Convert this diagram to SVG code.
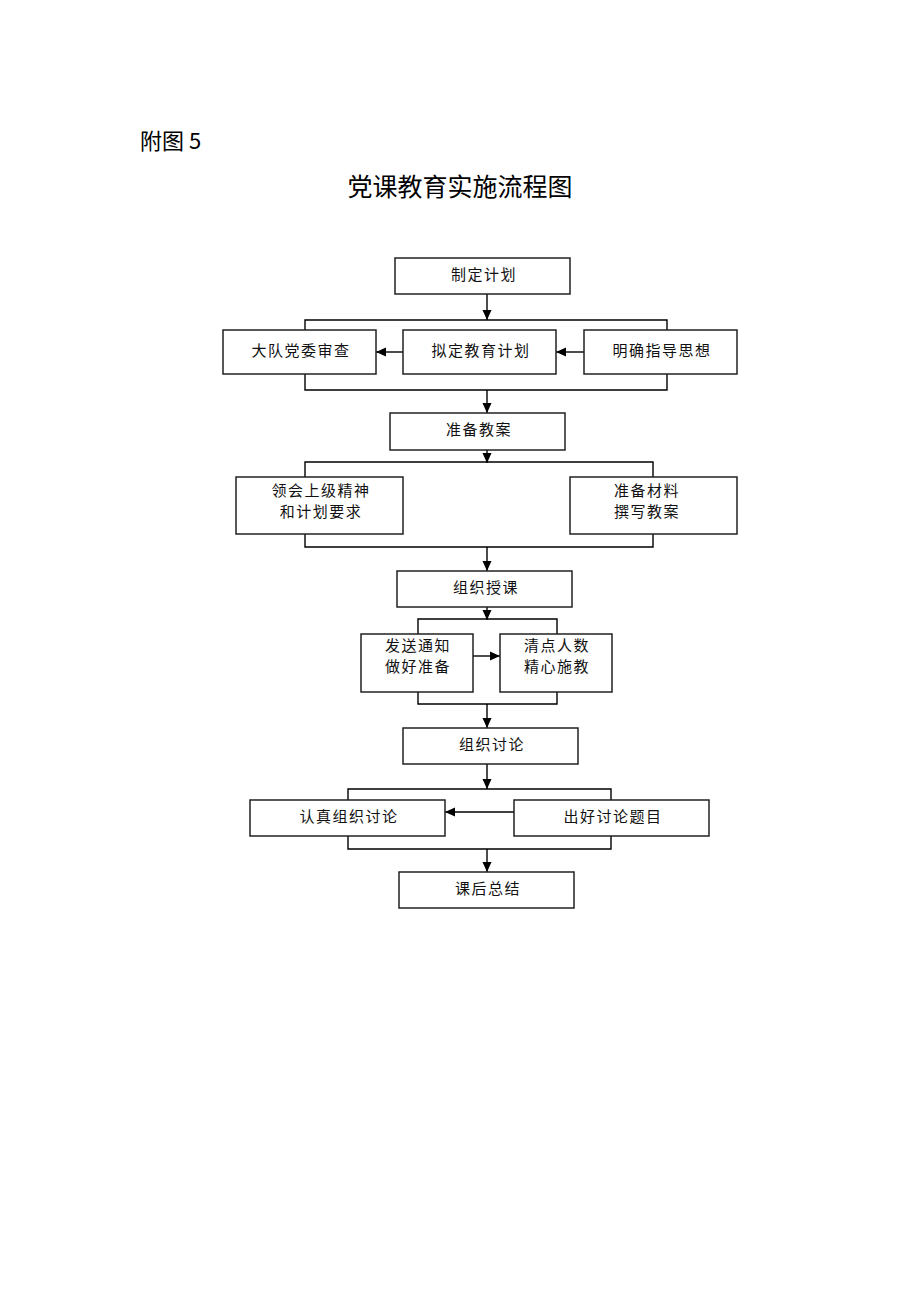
<svg xmlns="http://www.w3.org/2000/svg" width="920" height="1302" viewBox="0 0 920 1302">
<style>
.box{fill:#fff;stroke:#222;stroke-width:1.5}
.t{font-family:"Noto Sans CJK SC","Liberation Sans",sans-serif;font-size:15px;fill:#111;text-anchor:middle;letter-spacing:1.5px}
.ln{fill:none;stroke:#000;stroke-width:1.4}
.ar{fill:none;stroke:#000;stroke-width:1.4;marker-end:url(#ah)}
</style>
<defs>
<marker id="ah" markerUnits="userSpaceOnUse" markerWidth="10" markerHeight="10" refX="10" refY="5" orient="auto">
<path d="M0,0.5 L10,5 L0,9.5 z" fill="#000"/>
</marker>
</defs>
<rect width="920" height="1302" fill="#fff"/>
<g id="heading">
<text x="140" y="149" style="font-family:'Noto Sans CJK SC','Liberation Sans',sans-serif;font-size:22px;fill:#000">附图 5</text>
<text x="460" y="196" style="font-family:'Noto Sans CJK SC','Liberation Sans',sans-serif;font-size:25px;fill:#000;text-anchor:middle">党课教育实施流程图</text>
</g>
<g id="connectors">
<path class="ar" d="M487,294 V320"/>
<path class="ln" d="M305,330 V320 H667 V330"/>
<path class="ar" d="M403,352 H376"/>
<path class="ar" d="M584,352 H556"/>
<path class="ln" d="M305,374 V390 H667 V374"/>
<path class="ar" d="M487,390 V413"/>
<path class="ar" d="M487,450 V463"/>
<path class="ln" d="M305,477 V462 H653 V477"/>
<path class="ln" d="M305,534 V547 H653 V534"/>
<path class="ar" d="M487,547 V571"/>
<path class="ar" d="M487,607 V620"/>
<path class="ln" d="M418,634 V619 H557 V634"/>
<path class="ar" d="M473,656 H500"/>
<path class="ln" d="M418,692 V704 H557 V692"/>
<path class="ar" d="M487,704 V728"/>
<path class="ar" d="M487,764 V789"/>
<path class="ln" d="M348,800 V789 H611 V800"/>
<path class="ar" d="M514,812 H445"/>
<path class="ln" d="M348,836 V849 H611 V836"/>
<path class="ar" d="M487,849 V872"/>
</g>
<g id="n1"><rect class="box" x="395" y="258" width="175" height="36"/><text class="t" x="484" y="280">制定计划</text></g>
<g id="n2"><rect class="box" x="223" y="330" width="153" height="44"/><text class="t" x="301" y="356">大队党委审查</text></g>
<g id="n3"><rect class="box" x="403" y="330" width="153" height="44"/><text class="t" x="481" y="356">拟定教育计划</text></g>
<g id="n4"><rect class="box" x="584" y="330" width="153" height="44"/><text class="t" x="662" y="356">明确指导思想</text></g>
<g id="n5"><rect class="box" x="390" y="413" width="175" height="37"/><text class="t" x="479" y="435">准备教案</text></g>
<g id="n6"><rect class="box" x="236" y="477" width="167" height="57"/><text class="t" x="321" y="496">领会上级精神</text><text class="t" x="321" y="517">和计划要求</text></g>
<g id="n7"><rect class="box" x="570" y="477" width="167" height="57"/><text class="t" x="647" y="496">准备材料</text><text class="t" x="647" y="517">撰写教案</text></g>
<g id="n8"><rect class="box" x="397" y="571" width="175" height="36"/><text class="t" x="486" y="593">组织授课</text></g>
<g id="n9"><rect class="box" x="361" y="634" width="112" height="58"/><text class="t" x="418" y="651">发送通知</text><text class="t" x="418" y="672">做好准备</text></g>
<g id="n10"><rect class="box" x="500" y="634" width="112" height="58"/><text class="t" x="557" y="651">清点人数</text><text class="t" x="557" y="672">精心施教</text></g>
<g id="n11"><rect class="box" x="403" y="728" width="175" height="36"/><text class="t" x="492" y="750">组织讨论</text></g>
<g id="n12"><rect class="box" x="250" y="800" width="195" height="36"/><text class="t" x="349" y="822">认真组织讨论</text></g>
<g id="n13"><rect class="box" x="514" y="800" width="195" height="36"/><text class="t" x="613" y="822">出好讨论题目</text></g>
<g id="n14"><rect class="box" x="399" y="872" width="175" height="36"/><text class="t" x="488" y="894">课后总结</text></g>
</svg>
